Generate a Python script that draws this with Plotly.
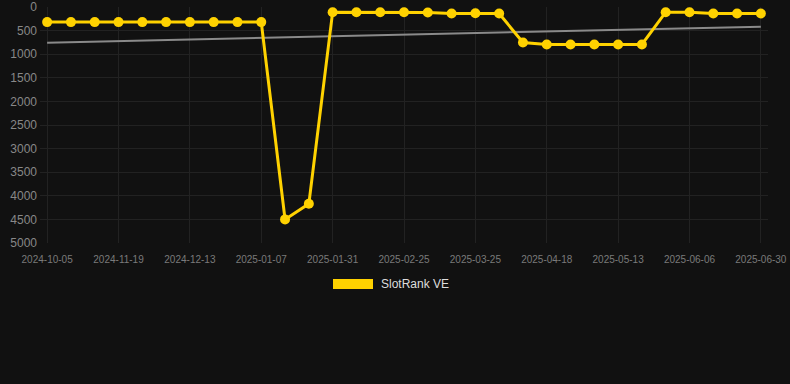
import numpy as np
import plotly.graph_objects as go

dates = [
    "2024-10-05", "2024-10-20", "2024-11-04", "2024-11-19", "2024-11-27", "2024-12-05",
    "2024-12-13", "2024-12-21", "2024-12-29", "2025-01-07", "2025-01-15", "2025-01-23",
    "2025-01-31", "2025-02-08", "2025-02-16", "2025-02-25", "2025-03-05", "2025-03-15",
    "2025-03-25", "2025-04-02", "2025-04-10", "2025-04-18", "2025-04-26", "2025-05-04",
    "2025-05-13", "2025-05-21", "2025-05-29", "2025-06-06", "2025-06-14", "2025-06-22",
    "2025-06-30",
]
ranks = [
    320, 320, 320, 320, 320, 320, 320, 320, 320, 320,
    4500, 4170,
    110, 110, 110, 110, 116, 138, 131, 138,
    752, 794, 794, 794, 794, 794,
    110, 110, 138, 138, 138,
]
tick_labels = dates[::3]
y_ticks = list(range(0, 5001, 500))

idx = np.arange(len(ranks))
slope, intercept = np.polyfit(idx, ranks, 1)
trend = (slope * idx + intercept).tolist()

font = "Liberation Sans, Arial, sans-serif"
yellow = "#FFD200"

fig = go.Figure()
fig.add_trace(go.Scatter(
    x=dates, y=trend, mode="lines",
    line=dict(color="#8a8a8a", width=2),
    showlegend=False, hoverinfo="skip",
))
fig.add_trace(go.Scatter(
    x=dates, y=ranks, mode="lines+markers", name="SlotRank VE",
    line=dict(color=yellow, width=3),
    marker=dict(color=yellow, size=10),
    showlegend=False,
))

fig.update_layout(
    width=790, height=384,
    paper_bgcolor="#111111", plot_bgcolor="#111111",
    margin=dict(l=40, r=22, t=7, b=141, autoexpand=False),
    font=dict(family=font, color="#888888"),
    xaxis=dict(
        type="category",
        range=[-0.3, 30.3],
        tickmode="array", tickvals=tick_labels, ticktext=tick_labels,
        tickfont=dict(size=10, color="#7a7a7a"),
        showgrid=True, gridcolor="#222222", gridwidth=1,
        zeroline=False, showline=False, ticks="", ticklen=0,
        ticklabelstandoff=9, automargin=False,
    ),
    yaxis=dict(
        range=[5000, 0],
        tickmode="array", tickvals=y_ticks,
        tickfont=dict(size=12, color="#888888"),
        showgrid=True, gridcolor="#222222", gridwidth=1,
        zeroline=False, showline=False, ticks="",
        ticklabelstandoff=2, automargin=False,
    ),
    shapes=[dict(
        type="rect", xref="paper", yref="paper",
        x0=(333 - 40) / 728, x1=(373 - 40) / 728,
        y0=(243 - 289) / 236, y1=(243 - 279) / 236,
        fillcolor=yellow, line=dict(width=0),
    )],
    annotations=[dict(
        xref="paper", yref="paper",
        x=(379 - 40) / 728, y=(243 - 284) / 236,
        xanchor="left", yanchor="middle",
        text="SlotRank VE", showarrow=False,
        font=dict(family=font, size=12, color="#dddddd"),
    )],
)

fig.write_html(
    "out.html",
    config={"displayModeBar": False},
    post_script="document.body.style.margin='0';document.body.style.background='#111111';",
)
